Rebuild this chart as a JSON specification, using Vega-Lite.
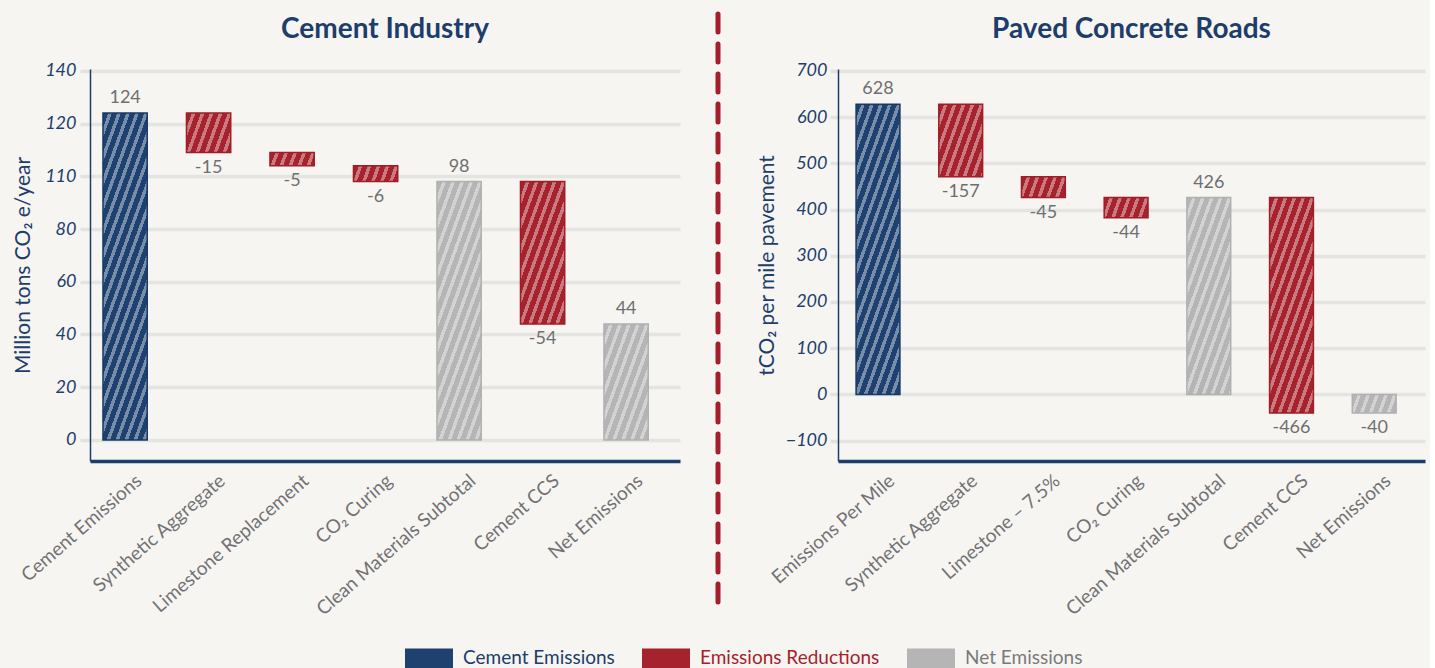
{
  "$schema": "https://vega.github.io/schema/vega-lite/v6.json",
  "background": "#f7f5f2",
  "padding": {"left": 12, "top": 11, "right": 5, "bottom": 0},
  "datasets": {
    "bars": [
      {"panel": "A", "cat": "Cement Emissions", "start": 0, "end": 124, "value": 124, "kind": "Cement Emissions"},
      {"panel": "A", "cat": "Synthetic Aggregate", "start": 124, "end": 109, "value": -15, "kind": "Emissions Reductions"},
      {"panel": "A", "cat": "Limestone Replacement", "start": 109, "end": 104, "value": -5, "kind": "Emissions Reductions"},
      {"panel": "A", "cat": "CO₂ Curing", "start": 104, "end": 98, "value": -6, "kind": "Emissions Reductions"},
      {"panel": "A", "cat": "Clean Materials Subtotal", "start": 0, "end": 98, "value": 98, "kind": "Net Emissions"},
      {"panel": "A", "cat": "Cement CCS", "start": 98, "end": 44, "value": -54, "kind": "Emissions Reductions"},
      {"panel": "A", "cat": "Net Emissions", "start": 0, "end": 44, "value": 44, "kind": "Net Emissions"},
      {"panel": "B", "cat": "Emissions Per Mile", "start": 0, "end": 628, "value": 628, "kind": "Cement Emissions"},
      {"panel": "B", "cat": "Synthetic Aggregate", "start": 628, "end": 471, "value": -157, "kind": "Emissions Reductions"},
      {"panel": "B", "cat": "Limestone – 7.5%", "start": 471, "end": 426, "value": -45, "kind": "Emissions Reductions"},
      {"panel": "B", "cat": "CO₂ Curing", "start": 426, "end": 382, "value": -44, "kind": "Emissions Reductions"},
      {"panel": "B", "cat": "Clean Materials Subtotal", "start": 0, "end": 426, "value": 426, "kind": "Net Emissions"},
      {"panel": "B", "cat": "Cement CCS", "start": 426, "end": -40, "value": -466, "kind": "Emissions Reductions"},
      {"panel": "B", "cat": "Net Emissions", "start": 0, "end": -40, "value": -40, "kind": "Net Emissions"}
    ],
    "sep": [{"pos": 0.5, "top": 1.14, "bottom": -0.378}]
  },
  "config": {
    "font": "Lato",
    "view": {"stroke": null},
    "concat": {"spacing": 35},
    "axisX": {"title": null, "labelAngle": -41, "labelFontSize": 19, "labelColor": "#727272", "labelLimit": 0, "labelOffset": 8, "ticks": false, "domainColor": "#1d3d6b", "domainWidth": 3.5, "labelPadding": 10, "grid": false},
    "axisY": {"labelFontSize": 18, "labelColor": "#1d3d6b", "labelFontStyle": "italic", "tickColor": "#e2e2df", "tickWidth": 3.5, "grid": true, "gridColor": "#e4e4e1", "gridWidth": 3.5, "domainColor": "#1d3d6b", "domainWidth": 1.5, "titleFontSize": 21, "titleColor": "#1d3d6b", "titleFontWeight": "normal"},
    "title": {"fontSize": 28, "fontWeight": "bold", "color": "#1d3d6b", "offset": 18, "anchor": "middle"}
  },
  "hconcat": [
    {
      "title": "Cement Industry",
      "width": 590,
      "height": 392,
      "data": {"name": "bars"},
      "transform": [{"filter": "datum.panel === 'A'"}],
      "encoding": {
        "x": {"field": "cat", "type": "nominal", "sort": null, "scale": {"paddingInner": 0.47, "paddingOuter": 0.268, "align": 0.29}},
        "y": {"field": "start", "type": "quantitative", "scale": {"domain": [-8, 140.7], "nice": false},
          "axis": {"values": [0, 20, 40, 60, 80, 100, 120, 140], "labelExpr": "datum.value === 100 ? '110' : datum.label", "title": "Million tons CO₂ e/year", "titlePadding": 11, "tickSize": 10, "labelPadding": 4}},
        "y2": {"field": "end"}
      },
      "layer": [
        {
          "mark": {"type": "bar", "strokeWidth": 0},
          "encoding": {
            "color": {"field": "kind", "type": "nominal",
              "scale": {"domain": ["Cement Emissions", "Emissions Reductions", "Net Emissions"], "range": ["#1e416f", "#a6222c", "#b5b5b5"]},
              "legend": {"title": null, "orient": "none", "legendX": 315, "legendY": 565, "direction": "horizontal", "symbolType": "M-1,-0.42H1V0.42H-1Z", "symbolSize": 2304, "symbolStrokeWidth": 0, "symbolOpacity": 1, "labelFontSize": 19, "labelOffset": 10, "labelLimit": 0, "columnPadding": 27,
                "encode": {"labels": {"update": {"fill": {"signal": "datum.label === 'Cement Emissions' ? '#1d3d6b' : datum.label === 'Emissions Reductions' ? '#a51f2a' : '#7a7a7a'"}}}}}}
          }
        },
        {
          "mark": {"type": "bar", "strokeWidth": 1.5,
            "fill": {"expr": "{gradient:'linear',x1:0,y1:0,x2:4.063/(1+pow(abs(datum.start-datum.end)*(datum.panel==='A'?2.636:0.4623)/121.8,2)),y2:4.063*(abs(datum.start-datum.end)*(datum.panel==='A'?2.636:0.4623)/121.8)/(1+pow(abs(datum.start-datum.end)*(datum.panel==='A'?2.636:0.4623)/121.8,2)),stops:[{offset:0,color:'rgba(255,255,255,0)'},{offset:0.03,color:'rgba(255,255,255,0)'},{offset:0.03,color:'rgba(255,255,255,0.4)'},{offset:0.05,color:'rgba(255,255,255,0.4)'},{offset:0.05,color:'rgba(255,255,255,0)'},{offset:0.08,color:'rgba(255,255,255,0)'},{offset:0.08,color:'rgba(255,255,255,0.4)'},{offset:0.1,color:'rgba(255,255,255,0.4)'},{offset:0.1,color:'rgba(255,255,255,0)'},{offset:0.13,color:'rgba(255,255,255,0)'},{offset:0.13,color:'rgba(255,255,255,0.4)'},{offset:0.15,color:'rgba(255,255,255,0.4)'},{offset:0.15,color:'rgba(255,255,255,0)'},{offset:0.18,color:'rgba(255,255,255,0)'},{offset:0.18,color:'rgba(255,255,255,0.4)'},{offset:0.2,color:'rgba(255,255,255,0.4)'},{offset:0.2,color:'rgba(255,255,255,0)'},{offset:0.23,color:'rgba(255,255,255,0)'},{offset:0.23,color:'rgba(255,255,255,0.4)'},{offset:0.25,color:'rgba(255,255,255,0.4)'},{offset:0.25,color:'rgba(255,255,255,0)'},{offset:0.28,color:'rgba(255,255,255,0)'},{offset:0.28,color:'rgba(255,255,255,0.4)'},{offset:0.3,color:'rgba(255,255,255,0.4)'},{offset:0.3,color:'rgba(255,255,255,0)'},{offset:0.33,color:'rgba(255,255,255,0)'},{offset:0.33,color:'rgba(255,255,255,0.4)'},{offset:0.35,color:'rgba(255,255,255,0.4)'},{offset:0.35,color:'rgba(255,255,255,0)'},{offset:0.38,color:'rgba(255,255,255,0)'},{offset:0.38,color:'rgba(255,255,255,0.4)'},{offset:0.4,color:'rgba(255,255,255,0.4)'},{offset:0.4,color:'rgba(255,255,255,0)'},{offset:0.43,color:'rgba(255,255,255,0)'},{offset:0.43,color:'rgba(255,255,255,0.4)'},{offset:0.45,color:'rgba(255,255,255,0.4)'},{offset:0.45,color:'rgba(255,255,255,0)'},{offset:0.48,color:'rgba(255,255,255,0)'},{offset:0.48,color:'rgba(255,255,255,0.4)'},{offset:0.5,color:'rgba(255,255,255,0.4)'},{offset:0.5,color:'rgba(255,255,255,0)'},{offset:0.53,color:'rgba(255,255,255,0)'},{offset:0.53,color:'rgba(255,255,255,0.4)'},{offset:0.55,color:'rgba(255,255,255,0.4)'},{offset:0.55,color:'rgba(255,255,255,0)'},{offset:0.58,color:'rgba(255,255,255,0)'},{offset:0.58,color:'rgba(255,255,255,0.4)'},{offset:0.6,color:'rgba(255,255,255,0.4)'},{offset:0.6,color:'rgba(255,255,255,0)'},{offset:0.63,color:'rgba(255,255,255,0)'},{offset:0.63,color:'rgba(255,255,255,0.4)'},{offset:0.65,color:'rgba(255,255,255,0.4)'},{offset:0.65,color:'rgba(255,255,255,0)'},{offset:0.68,color:'rgba(255,255,255,0)'},{offset:0.68,color:'rgba(255,255,255,0.4)'},{offset:0.7,color:'rgba(255,255,255,0.4)'},{offset:0.7,color:'rgba(255,255,255,0)'},{offset:0.73,color:'rgba(255,255,255,0)'},{offset:0.73,color:'rgba(255,255,255,0.4)'},{offset:0.75,color:'rgba(255,255,255,0.4)'},{offset:0.75,color:'rgba(255,255,255,0)'},{offset:0.78,color:'rgba(255,255,255,0)'},{offset:0.78,color:'rgba(255,255,255,0.4)'},{offset:0.8,color:'rgba(255,255,255,0.4)'},{offset:0.8,color:'rgba(255,255,255,0)'},{offset:0.83,color:'rgba(255,255,255,0)'},{offset:0.83,color:'rgba(255,255,255,0.4)'},{offset:0.85,color:'rgba(255,255,255,0.4)'},{offset:0.85,color:'rgba(255,255,255,0)'},{offset:0.88,color:'rgba(255,255,255,0)'},{offset:0.88,color:'rgba(255,255,255,0.4)'},{offset:0.9,color:'rgba(255,255,255,0.4)'},{offset:0.9,color:'rgba(255,255,255,0)'},{offset:0.93,color:'rgba(255,255,255,0)'},{offset:0.93,color:'rgba(255,255,255,0.4)'},{offset:0.95,color:'rgba(255,255,255,0.4)'},{offset:0.95,color:'rgba(255,255,255,0)'},{offset:0.98,color:'rgba(255,255,255,0)'},{offset:0.98,color:'rgba(255,255,255,0.4)'},{offset:1,color:'rgba(255,255,255,0.4)'}]}"}},
          "encoding": {
            "stroke": {"field": "kind", "type": "nominal", "scale": {"domain": ["Cement Emissions", "Emissions Reductions", "Net Emissions"], "range": ["#163a66", "#a01c26", "#b0b0b0"]}, "legend": null}
          }
        },
        {
          "transform": [{"filter": "datum.value > 0"}],
          "mark": {"type": "text", "baseline": "bottom", "dy": -6, "fontSize": 18, "color": "#6f6f6f"},
          "encoding": {"y": {"field": "end", "type": "quantitative"}, "y2": null, "text": {"field": "value", "type": "nominal"}}
        },
        {
          "transform": [{"filter": "datum.value < 0"}],
          "mark": {"type": "text", "baseline": "top", "dy": 6, "fontSize": 18, "color": "#6f6f6f"},
          "encoding": {"y": {"field": "end", "type": "quantitative"}, "y2": null, "text": {"field": "value", "type": "nominal"}}
        }
      ]
    },
    {
      "width": 4,
      "height": 392,
      "data": {"name": "sep"},
      "mark": {"type": "rule", "color": "#a51f2a", "strokeWidth": 5, "strokeDash": [18, 12], "strokeCap": "round"},
      "encoding": {
        "x": {"field": "pos", "type": "quantitative", "scale": {"domain": [0, 1]}, "axis": null},
        "y": {"field": "top", "type": "quantitative", "scale": {"domain": [0, 1]}, "axis": null},
        "y2": {"field": "bottom"}
      }
    },
    {
      "title": "Paved Concrete Roads",
      "width": 587,
      "height": 392,
      "data": {"name": "bars"},
      "transform": [{"filter": "datum.panel === 'B'"}],
      "encoding": {
        "x": {"field": "cat", "type": "nominal", "sort": null, "scale": {"paddingInner": 0.47, "paddingOuter": 0.284, "align": 0.385}},
        "y": {"field": "start", "type": "quantitative", "scale": {"domain": [-144, 704], "nice": false},
          "axis": {"values": [-100, 0, 100, 200, 300, 400, 500, 600, 700], "title": "tCO₂ per mile pavement", "titlePadding": 8, "tickSize": 8, "labelPadding": 3}},
        "y2": {"field": "end"}
      },
      "layer": [
        {
          "mark": {"type": "bar", "strokeWidth": 0},
          "encoding": {
            "color": {"field": "kind", "type": "nominal",
              "scale": {"domain": ["Cement Emissions", "Emissions Reductions", "Net Emissions"], "range": ["#1e416f", "#a6222c", "#b5b5b5"]},
              "legend": {"title": null, "orient": "none", "legendX": 315, "legendY": 565, "direction": "horizontal", "symbolType": "M-1,-0.42H1V0.42H-1Z", "symbolSize": 2304, "symbolStrokeWidth": 0, "symbolOpacity": 1, "labelFontSize": 19, "labelOffset": 10, "labelLimit": 0, "columnPadding": 27,
                "encode": {"labels": {"update": {"fill": {"signal": "datum.label === 'Cement Emissions' ? '#1d3d6b' : datum.label === 'Emissions Reductions' ? '#a51f2a' : '#7a7a7a'"}}}}}}
          }
        },
        {
          "mark": {"type": "bar", "strokeWidth": 1.5,
            "fill": {"expr": "{gradient:'linear',x1:0,y1:0,x2:4.063/(1+pow(abs(datum.start-datum.end)*(datum.panel==='A'?2.636:0.4623)/121.8,2)),y2:4.063*(abs(datum.start-datum.end)*(datum.panel==='A'?2.636:0.4623)/121.8)/(1+pow(abs(datum.start-datum.end)*(datum.panel==='A'?2.636:0.4623)/121.8,2)),stops:[{offset:0,color:'rgba(255,255,255,0)'},{offset:0.03,color:'rgba(255,255,255,0)'},{offset:0.03,color:'rgba(255,255,255,0.4)'},{offset:0.05,color:'rgba(255,255,255,0.4)'},{offset:0.05,color:'rgba(255,255,255,0)'},{offset:0.08,color:'rgba(255,255,255,0)'},{offset:0.08,color:'rgba(255,255,255,0.4)'},{offset:0.1,color:'rgba(255,255,255,0.4)'},{offset:0.1,color:'rgba(255,255,255,0)'},{offset:0.13,color:'rgba(255,255,255,0)'},{offset:0.13,color:'rgba(255,255,255,0.4)'},{offset:0.15,color:'rgba(255,255,255,0.4)'},{offset:0.15,color:'rgba(255,255,255,0)'},{offset:0.18,color:'rgba(255,255,255,0)'},{offset:0.18,color:'rgba(255,255,255,0.4)'},{offset:0.2,color:'rgba(255,255,255,0.4)'},{offset:0.2,color:'rgba(255,255,255,0)'},{offset:0.23,color:'rgba(255,255,255,0)'},{offset:0.23,color:'rgba(255,255,255,0.4)'},{offset:0.25,color:'rgba(255,255,255,0.4)'},{offset:0.25,color:'rgba(255,255,255,0)'},{offset:0.28,color:'rgba(255,255,255,0)'},{offset:0.28,color:'rgba(255,255,255,0.4)'},{offset:0.3,color:'rgba(255,255,255,0.4)'},{offset:0.3,color:'rgba(255,255,255,0)'},{offset:0.33,color:'rgba(255,255,255,0)'},{offset:0.33,color:'rgba(255,255,255,0.4)'},{offset:0.35,color:'rgba(255,255,255,0.4)'},{offset:0.35,color:'rgba(255,255,255,0)'},{offset:0.38,color:'rgba(255,255,255,0)'},{offset:0.38,color:'rgba(255,255,255,0.4)'},{offset:0.4,color:'rgba(255,255,255,0.4)'},{offset:0.4,color:'rgba(255,255,255,0)'},{offset:0.43,color:'rgba(255,255,255,0)'},{offset:0.43,color:'rgba(255,255,255,0.4)'},{offset:0.45,color:'rgba(255,255,255,0.4)'},{offset:0.45,color:'rgba(255,255,255,0)'},{offset:0.48,color:'rgba(255,255,255,0)'},{offset:0.48,color:'rgba(255,255,255,0.4)'},{offset:0.5,color:'rgba(255,255,255,0.4)'},{offset:0.5,color:'rgba(255,255,255,0)'},{offset:0.53,color:'rgba(255,255,255,0)'},{offset:0.53,color:'rgba(255,255,255,0.4)'},{offset:0.55,color:'rgba(255,255,255,0.4)'},{offset:0.55,color:'rgba(255,255,255,0)'},{offset:0.58,color:'rgba(255,255,255,0)'},{offset:0.58,color:'rgba(255,255,255,0.4)'},{offset:0.6,color:'rgba(255,255,255,0.4)'},{offset:0.6,color:'rgba(255,255,255,0)'},{offset:0.63,color:'rgba(255,255,255,0)'},{offset:0.63,color:'rgba(255,255,255,0.4)'},{offset:0.65,color:'rgba(255,255,255,0.4)'},{offset:0.65,color:'rgba(255,255,255,0)'},{offset:0.68,color:'rgba(255,255,255,0)'},{offset:0.68,color:'rgba(255,255,255,0.4)'},{offset:0.7,color:'rgba(255,255,255,0.4)'},{offset:0.7,color:'rgba(255,255,255,0)'},{offset:0.73,color:'rgba(255,255,255,0)'},{offset:0.73,color:'rgba(255,255,255,0.4)'},{offset:0.75,color:'rgba(255,255,255,0.4)'},{offset:0.75,color:'rgba(255,255,255,0)'},{offset:0.78,color:'rgba(255,255,255,0)'},{offset:0.78,color:'rgba(255,255,255,0.4)'},{offset:0.8,color:'rgba(255,255,255,0.4)'},{offset:0.8,color:'rgba(255,255,255,0)'},{offset:0.83,color:'rgba(255,255,255,0)'},{offset:0.83,color:'rgba(255,255,255,0.4)'},{offset:0.85,color:'rgba(255,255,255,0.4)'},{offset:0.85,color:'rgba(255,255,255,0)'},{offset:0.88,color:'rgba(255,255,255,0)'},{offset:0.88,color:'rgba(255,255,255,0.4)'},{offset:0.9,color:'rgba(255,255,255,0.4)'},{offset:0.9,color:'rgba(255,255,255,0)'},{offset:0.93,color:'rgba(255,255,255,0)'},{offset:0.93,color:'rgba(255,255,255,0.4)'},{offset:0.95,color:'rgba(255,255,255,0.4)'},{offset:0.95,color:'rgba(255,255,255,0)'},{offset:0.98,color:'rgba(255,255,255,0)'},{offset:0.98,color:'rgba(255,255,255,0.4)'},{offset:1,color:'rgba(255,255,255,0.4)'}]}"}},
          "encoding": {
            "stroke": {"field": "kind", "type": "nominal", "scale": {"domain": ["Cement Emissions", "Emissions Reductions", "Net Emissions"], "range": ["#163a66", "#a01c26", "#b0b0b0"]}, "legend": null}
          }
        },
        {
          "transform": [{"filter": "datum.value > 0"}],
          "mark": {"type": "text", "baseline": "bottom", "dy": -6, "fontSize": 18, "color": "#6f6f6f"},
          "encoding": {"y": {"field": "end", "type": "quantitative"}, "y2": null, "text": {"field": "value", "type": "nominal"}}
        },
        {
          "transform": [{"filter": "datum.value < 0"}],
          "mark": {"type": "text", "baseline": "top", "dy": 6, "fontSize": 18, "color": "#6f6f6f"},
          "encoding": {"y": {"field": "end", "type": "quantitative"}, "y2": null, "text": {"field": "value", "type": "nominal"}}
        }
      ]
    }
  ],
  "resolve": {"scale": {"color": "shared", "stroke": "shared"}}
}
